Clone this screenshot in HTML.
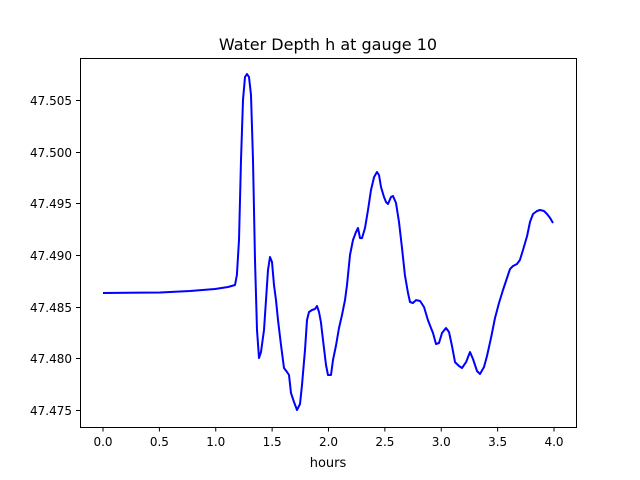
<!DOCTYPE html>
<html><head><meta charset="utf-8"><style>
body{margin:0;background:#fff}
svg{display:block;font-family:"DejaVu Sans","Liberation Sans",sans-serif}
</style></head><body>
<svg id="chart" width="640" height="480" viewBox="0 0 640 480">
<rect width="640" height="480" fill="#fff"/>
<text x="328" y="50" font-size="16" text-anchor="middle">Water Depth h at gauge 10</text>
<g id="ticks"></g>
<path id="line" fill="none" stroke="#0000ff" stroke-width="2" stroke-linejoin="round"/>
<rect x="80.5" y="58.5" width="496" height="369" fill="none" stroke="#000" stroke-width="1"/>
<text x="328" y="467" font-size="13" text-anchor="middle">hours</text>
</svg>
<script>
const hours=[0,0.506,0.772,0.993,1.109,1.171,1.188,1.206,1.224,1.242,1.259,1.277,1.295,1.313,1.330,1.348,1.366,1.384,1.401,1.428,1.446,1.463,1.481,1.499,1.517,1.534,1.552,1.579,1.605,1.632,1.650,1.667,1.694,1.721,1.747,1.765,1.792,1.809,1.827,1.854,1.880,1.898,1.916,1.933,1.951,1.978,1.996,2.022,2.040,2.067,2.093,2.120,2.146,2.164,2.191,2.217,2.244,2.262,2.279,2.297,2.324,2.350,2.377,2.404,2.430,2.448,2.466,2.492,2.510,2.528,2.554,2.572,2.599,2.625,2.652,2.678,2.705,2.723,2.749,2.776,2.812,2.847,2.882,2.909,2.927,2.953,2.980,3.007,3.042,3.069,3.095,3.122,3.157,3.184,3.220,3.255,3.282,3.317,3.344,3.379,3.406,3.441,3.477,3.512,3.548,3.583,3.610,3.636,3.672,3.698,3.725,3.761,3.787,3.814,3.849,3.876,3.911,3.938,3.965,3.991];
const depth=[47.48632,47.48637,47.48652,47.48671,47.48690,47.48710,47.48806,47.49145,47.49919,47.50500,47.50723,47.50752,47.50723,47.50548,47.49919,47.48952,47.48274,47.48003,47.48061,47.48274,47.48564,47.48855,47.48981,47.48932,47.48710,47.48564,47.48371,47.48129,47.47906,47.47868,47.47839,47.47664,47.47577,47.47500,47.47558,47.47742,47.48081,47.48371,47.48448,47.48468,47.48477,47.48506,47.48448,47.48352,47.48177,47.47935,47.47839,47.47839,47.47984,47.48129,47.48294,47.48419,47.48564,47.48710,47.49000,47.49145,47.49223,47.49261,47.49164,47.49164,47.49261,47.49435,47.49629,47.49755,47.49803,47.49774,47.49658,47.49561,47.49513,47.49494,47.49561,47.49571,47.49503,47.49319,47.49068,47.48806,47.48632,47.48545,47.48535,47.48564,47.48555,47.48497,47.48371,47.48294,47.48245,47.48139,47.48148,47.48245,47.48294,47.48255,47.48119,47.47964,47.47926,47.47906,47.47964,47.48061,47.47994,47.47877,47.47848,47.47916,47.48023,47.48197,47.48390,47.48535,47.48661,47.48777,47.48864,47.48894,47.48913,47.48952,47.49048,47.49184,47.49319,47.49397,47.49426,47.49435,47.49426,47.49397,47.49358,47.49310];
const xTicks=[0,0.5,1,1.5,2,2.5,3,3.5,4];
const yTicks=[47.475,47.48,47.485,47.49,47.495,47.5,47.505];
const X=v=>103+v*112.75;
const Y=v=>100+(47.505-v)*10333.3;
const NS="http://www.w3.org/2000/svg";
const g=document.getElementById('ticks');
function mk(tag,attrs){const e=document.createElementNS(NS,tag);for(const k in attrs)e.setAttribute(k,attrs[k]);g.appendChild(e);return e;}
xTicks.forEach(t=>{
 const l=mk('line',{x1:X(t),x2:X(t),y1:427,y2:431.5,stroke:'#000'});
 
 
 const tx=mk('text',{x:X(t),y:446,'font-size':12,'text-anchor':'middle'});
 
 
 tx.textContent=t.toFixed(1);
});
yTicks.forEach(t=>{
 const y=Math.round(Y(t))+0.5;
 const l=mk('line',{x1:76,x2:80.5,y1:y,y2:y,stroke:'#000'});
 
 
 const tx=mk('text',{x:72,y:y+4.5,'font-size':12,'text-anchor':'end'});
 
 
 tx.textContent=t.toFixed(3);
});
document.getElementById('line').setAttribute('d',hours.map((h,i)=>(i?'L':'M')+X(h).toFixed(1)+' '+Y(depth[i]).toFixed(1)).join(' '));
</script>
</body></html>
